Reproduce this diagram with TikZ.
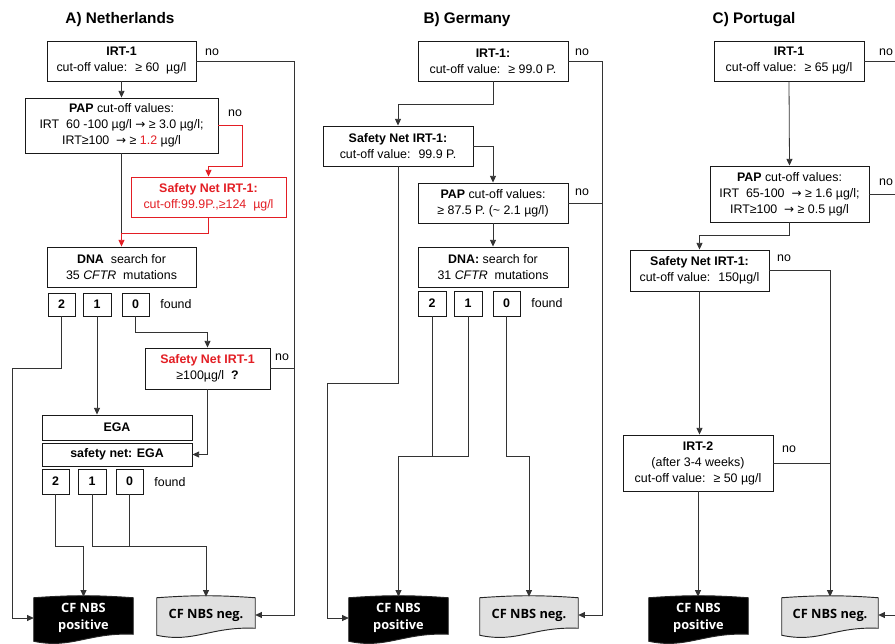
\documentclass[tikz,border=0pt]{standalone}
\usepackage{fontspec}
\setmainfont{Liberation Sans}
\newfontfamily\cffont{Open Sans}
\newfontfamily\symfont{DejaVu Sans}
\usetikzlibrary{backgrounds}
\usetikzlibrary{calc}
\usetikzlibrary{arrows.meta}
\definecolor{cfred}{RGB}{227,30,36}
\newcommand{\then}{{\symfont\fontsize{9}{9}\selectfont →}}
\newcommand{\cfdoc}[2]{%
  \draw[draw=black!85, line width=0.7pt, fill=#2]
    ($(#1.south west)+(0,2)$) -- ($(#1.north west)+(0,1)$)
    to[bend left=4] ($(#1.north east)+(0,1)$) -- ($(#1.south east)+(0,-5)$)
    .. controls +(-45,-2) and +(38,8) .. ($(#1.south west)+(0,2)$) -- cycle;}

\begin{document}
\begin{tikzpicture}[x=0.75pt, y=-0.75pt]

\tikzset{spot/.style n args={4}{at={(#1/2+#3/2,#2/2+#4/2)}, minimum width={(#3-#1)*0.75pt}, minimum height={(#4-#2)*0.75pt}}}
\tikzstyle{box}=[draw=black!90, line width=0.7pt, align=center, inner sep=0pt, fill=white, font=\fontsize{9.3}{12}\selectfont]
\tikzstyle{redbox}=[box, draw=cfred, text=cfred]
\tikzstyle{num}=[box, font=\fontsize{9.3}{12}\selectfont\bfseries]
\tikzstyle{heading}=[font=\fontsize{11.5}{14}\selectfont\bfseries]
\tikzstyle{txt}=[inner sep=0pt, font=\fontsize{9.3}{12}\selectfont]
\tikzstyle{result}=[inner sep=0pt, align=center, font=\cffont\fontsize{9.6}{13}\selectfont\bfseries]
\tikzstyle{wire}=[draw=black!80, line width=0.6pt]
\tikzstyle{arr}=[wire, -{Triangle[length=5pt,width=4.5pt]}]
\tikzstyle{redarr}=[arr, draw=cfred]

\useasboundingbox (0,0) rectangle (895,643);
\clip (0,0) rectangle (895,643);

% A) Netherlands
\node[heading] (titleA) at (120,20) {A) Netherlands};
\node[box, spot={47}{41}{196}{81}] (irtA) {\textbf{IRT-1}\\cut-off value:~ ≥ 60~ µg/l};
\node[box, spot={25}{98}{218}{153}] (papA) {\textbf{PAP} cut-off values:\\IRT~ 60 -100 µg/l \then{} ≥ 3.0 µg/l;\\IRT≥100~ \then{} ≥ \textcolor{cfred}{1.2} µg/l};
\node[redbox, spot={131}{177}{286}{217}] (snA) {\textbf{Safety Net IRT-1:}\\cut-off:99.9P.,≥124~ µg/l};
\node[box, spot={47}{247}{196}{287}] (dnaA) {\textbf{DNA}~ search for\\35 \textit{CFTR}~ mutations};
\node[num, spot={48}{293}{75}{316}] (twoA) {2};
\node[num, spot={83}{293}{111}{316}] (oneA) {1};
\node[num, spot={122}{293}{149}{316}] (zeroA) {0};
\node[txt] (foundA) at (176,304) {found};
\node[box, spot={145}{348}{270}{389}] (sn2A) {\textcolor{cfred}{\textbf{Safety Net IRT-1}}\\≥100µg/l~ \textbf{?}};
\node[box, spot={42}{415}{192}{440}] (egaA) {\textbf{EGA}};
\node[box, spot={42}{443}{192}{466}] (egasnA) {\textbf{safety net: EGA}};
\node[num, spot={42}{469}{69}{494}] (twobA) {2};
\node[num, spot={78}{469}{106}{494}] (onebA) {1};
\node[num, spot={116}{469}{143}{494}] (zerobA) {0};
\node[txt] (foundbA) at (170,482) {found};
\node[result, text=white, spot={34}{597}{133}{639}] (posA) {CF NBS\\positive};
\node[result, spot={157}{597}{255}{633}] (negA) {CF NBS neg.};
\node[txt] (noA) at (212,52) {no};
\node[txt] (nobA) at (235,113) {no};
\node[txt] (nocA) at (282,357) {no};

\coordinate (vA) at (294,61);
\coordinate (rA) at (242,166);
\coordinate (jA) at (121.5,233);
\coordinate (lA) at (12,368);
\coordinate (kA) at (207.5,332);
\coordinate (mA) at (83.5,546);
\coordinate (nA) at (206,546);

\draw[arr] (irtA.south) -- (papA.north);
\draw[arr] (irtA.east) -- (vA) |- (negA.east);
\draw[wire] (sn2A.east) -- (sn2A.east -| vA);
\draw[redarr] (papA.east) -| (rA) -| (snA.north);
\draw[wire] (papA.south) -- (jA);
\draw[redarr] (snA.south) |- (jA) -- (dnaA.north);
\draw[arr] (twoA.south) |- (lA) |- (posA.west);
\draw[arr] (oneA.south) -- (oneA.south |- egaA.north);
\draw[arr] (zeroA.south) |- (kA) -- (sn2A.north);
\draw[arr] (sn2A.south) |- (egasnA.east);
\draw[arr] (twobA.south) |- (mA) -- (posA.north);
\draw[arr] (onebA.south) |- (nA) -- (negA.north);
\draw[wire] (zerobA.south) -- (zerobA.south |- nA);

% B) Germany
\node[heading] (titleB) at (467,20) {B) Germany};
\node[box, spot={418}{41}{568}{81}] (irtB) {\textbf{IRT-1:}\\cut-off value:~ ≥ 99.0 P.};
\node[box, spot={323}{126}{473}{166}] (snB) {\textbf{Safety Net IRT-1:}\\cut-off value:~ 99.9 P.};
\node[box, spot={418}{183}{568}{223}] (papB) {\textbf{PAP} cut-off values:\\≥ 87.5 P. (\textasciitilde{} 2.1 µg/l)};
\node[box, spot={418}{247}{568}{287}] (dnaB) {\textbf{DNA:} search for\\31 \textit{CFTR}~ mutations};
\node[num, spot={418}{291}{446}{316}] (twoB) {2};
\node[num, spot={454}{291}{482}{316}] (oneB) {1};
\node[num, spot={493}{291}{520}{316}] (zeroB) {0};
\node[txt] (foundB) at (547,303) {found};
\node[result, text=white, spot={349}{597}{448}{639}] (posB) {CF NBS\\positive};
\node[result, spot={480}{597}{578}{633}] (negB) {CF NBS neg.};
\node[txt] (noB) at (582,52) {no};
\node[txt] (nobB) at (582,192) {no};

\coordinate (vB) at (602,61);
\coordinate (cB) at (398,104);
\coordinate (lB) at (327,383);
\coordinate (mB) at (398.5,456);
\coordinate (nB) at (529,456);

\draw[arr] (irtB.east) -- (vB) |- (negB.east);
\draw[wire] (papB.east) -- (papB.east -| vB);
\draw[arr] (irtB.south) |- (cB) -- (snB.north);
\draw[arr] (snB.east) -| (papB.north);
\draw[arr] (snB.south) |- (lB) |- (posB.west);
\draw[arr] (papB.south) -- (dnaB.north);
\draw[arr] (oneB.south) |- (mB) -- (posB.north);
\draw[wire] (twoB.south) -- (twoB.south |- mB);
\draw[arr] (zeroB.south) |- (nB) -- (negB.north);

% C) Portugal
\node[heading] (titleC) at (754,20) {C) Portugal};
\node[box, spot={714}{41}{864}{81}] (irtC) {\textbf{IRT-1}\\cut-off value:~ ≥ 65 µg/l};
\node[box, spot={710}{166}{869}{222}] (papC) {\textbf{PAP} cut-off values:\\IRT~ 65-100~ \then{} ≥ 1.6 µg/l;\\IRT≥100~ \then{} ≥ 0.5 µg/l};
\node[box, spot={630}{250}{769}{291}] (snC) {\textbf{Safety Net IRT-1:}\\cut-off value:~ 150µg/l};
\node[box, spot={623}{435}{773}{491}] (irttwoC) {\textbf{IRT-2}\\(after 3-4 weeks)\\cut-off value:~ ≥ 50 µg/l};
\node[result, text=white, spot={649}{597}{748}{639}] (posC) {CF NBS\\positive};
\node[result, spot={782}{597}{878}{633}] (negC) {CF NBS neg.};
\node[txt] (noC) at (886,52) {no};
\node[txt] (nobC) at (886,182) {no};
\node[txt] (nocC) at (784,258) {no};
\node[txt] (nodC) at (789,449) {no};

\coordinate (vC) at (902,61);
\coordinate (cC) at (699.5,235);

\draw[arr] (irtC.east) -- (vC) |- (negC.east);
\draw[wire] (papC.east) -- (papC.east -| vC);
\draw[arr] (irtC.south) -- (papC.north);
\draw[arr] (papC.south) |- (cC) -- (snC.north);
\draw[arr] (snC.south) -- (snC.south |- irttwoC.north);
\draw[arr] (irttwoC.south) -- (irttwoC.south |- posC.north);
\draw[arr] (snC.east) -| (negC.north);
\draw[wire] (irttwoC.east) -- (irttwoC.east -| negC.north);

\begin{scope}[on background layer]
\cfdoc{posA}{black}
\cfdoc{negA}{black!12}
\cfdoc{posB}{black}
\cfdoc{negB}{black!12}
\cfdoc{posC}{black}
\cfdoc{negC}{black!12}
\end{scope}
\end{tikzpicture}
\end{document}
